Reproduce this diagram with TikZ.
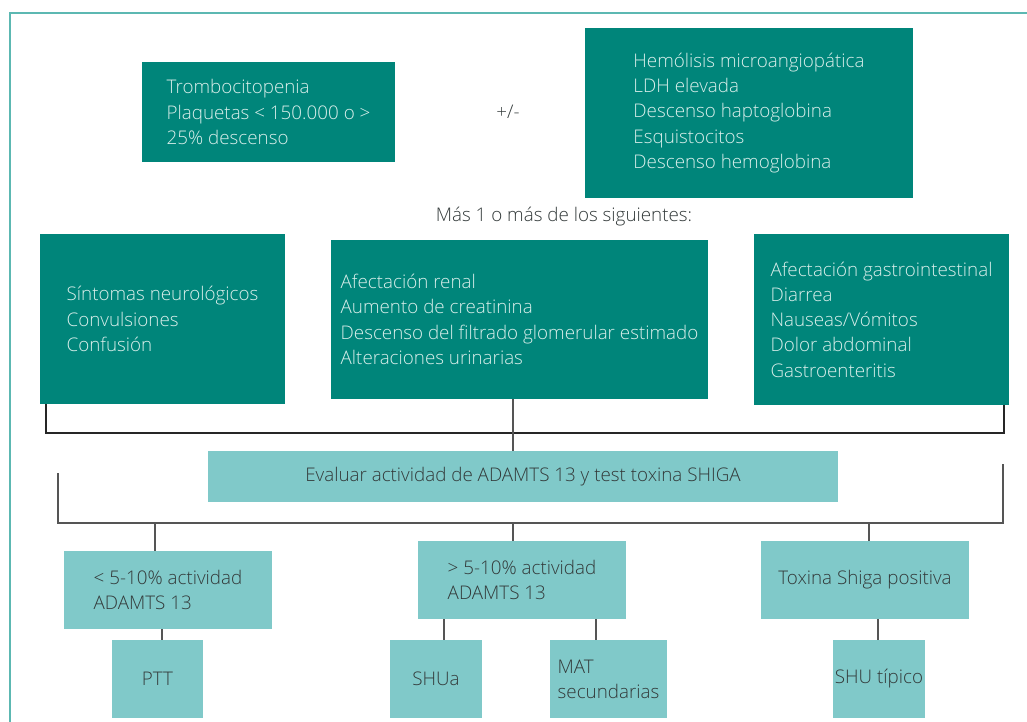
\documentclass[tikz,border=0pt]{standalone}
\usepackage{fontspec}
\setmainfont{Open Sans Light}
\definecolor{darkteal}{HTML}{00857A}
\definecolor{lightteal}{HTML}{80C9C9}
\definecolor{frameteal}{HTML}{5CB8B2}
\definecolor{lighttext}{HTML}{D8EEEA}
\definecolor{darktext}{HTML}{333A3A}
\definecolor{linegray}{HTML}{555555}
\begin{document}
\begin{tikzpicture}[x=1pt,y=-1pt,
  every node/.style={font=\fontsize{18.8}{25.3}\selectfont, inner sep=0pt},
  darkbox/.style={fill=darkteal, text=lighttext, align=left},
  lightbox/.style={fill=lightteal, text=darktext, align=left},
  conn/.style={draw=linegray, line width=1.3pt},
  conndark/.style={draw=black!85, line width=1.3pt},
  frameline/.style={draw=frameteal, line width=2pt}]
\useasboundingbox (0,0) rectangle (1027,722);
% frame
\draw[frameline] (10,730) -- (10,13) -- (1035,13);
% top boxes
\node[darkbox, minimum width=253, minimum height=100] (tromb) at (268.5,112)
  {Trombocitopenia\\Plaquetas < 150.000 o >\\25\% descenso};
\node[text=darktext] (pm) at (508,112) {+/-};
\node[darkbox, minimum width=328, minimum height=170] (hemo) at (749,113)
  {Hemólisis microangiopática\\LDH elevada\\Descenso haptoglobina\\Esquistocitos\\Descenso hemoglobina};
\node[text=darktext] (mas) at (564,217) {Más 1 o más de los siguientes:};
% middle boxes
\node[darkbox, minimum width=245, minimum height=170] (neuro) at (162.5,319)
  {Síntomas neurológicos\\Convulsiones\\Confusión};
\node[darkbox, minimum width=377, minimum height=159] (renal) at (519.5,319.5)
  {Afectación renal\\Aumento de creatinina\\Descenso del filtrado glomerular estimado\\Alteraciones urinarias};
\node[darkbox, minimum width=255, minimum height=171] (gastro) at (881.5,319.5)
  {Afectación gastrointestinal\\Diarrea\\Nauseas/Vómitos\\Dolor abdominal\\Gastroenteritis};
% eval box
\node[lightbox, minimum width=630, minimum height=51] (eval) at (523,476.5)
  {Evaluar actividad de ADAMTS 13 y test toxina SHIGA};
% lower boxes
\node[lightbox, minimum width=208, minimum height=78] (lt) at (168,590)
  {< 5-10\% actividad\\ADAMTS 13};
\node[lightbox, minimum width=208, minimum height=78] (gt) at (522,580)
  {> 5-10\% actividad\\ADAMTS 13};
\node[lightbox, minimum width=208, minimum height=78] (tox) at (865,580)
  {Toxina Shiga positiva};
\node[lightbox, minimum width=91, minimum height=78] (ptt) at (157.5,679) {PTT};
\node[lightbox, minimum width=92, minimum height=78] (shua) at (436,679) {SHUa};
\node[lightbox, minimum width=117, minimum height=78] (mat) at (608.5,679) {MAT\\secundarias};
\node[lightbox, minimum width=92, minimum height=78] (shut) at (879,679) {SHU típico};
% bracket 1
\coordinate (b1l) at (46,433);
\coordinate (b1r) at (1004,433);
\coordinate (b1m) at (513,433);
\draw[conndark] (neuro.south -| b1l) -- (b1l) -- (b1r) -- (gastro.south -| b1r);
\draw[conn] (renal.south -| b1m) -- (eval.north -| b1m);
% bracket 2
\coordinate (b2lt) at (58,473);
\coordinate (b2l) at (58,523);
\coordinate (b2r) at (1003,523);
\coordinate (b2rt) at (1003,464);
\draw[conn] (b2lt) -- (b2l) -- (b2r) -- (b2rt);
\coordinate (t1) at (155,523);
\coordinate (t2) at (513,523);
\coordinate (t3) at (869,523);
\draw[conn] (t1) -- (lt.north -| t1);
\draw[conn] (t2) -- (gt.north -| t2);
\draw[conn] (t3) -- (tox.north -| t3);
% lower connectors
\coordinate (x1) at (162,0);
\coordinate (x2) at (444,0);
\coordinate (x3) at (596,0);
\coordinate (x4) at (878,0);
\draw[conn] (lt.south -| x1) -- (ptt.north -| x1);
\draw[conn] (gt.south -| x2) -- (shua.north -| x2);
\draw[conn] (gt.south -| x3) -- (mat.north -| x3);
\draw[conn] (tox.south -| x4) -- (shut.north -| x4);
\end{tikzpicture}
\end{document}
